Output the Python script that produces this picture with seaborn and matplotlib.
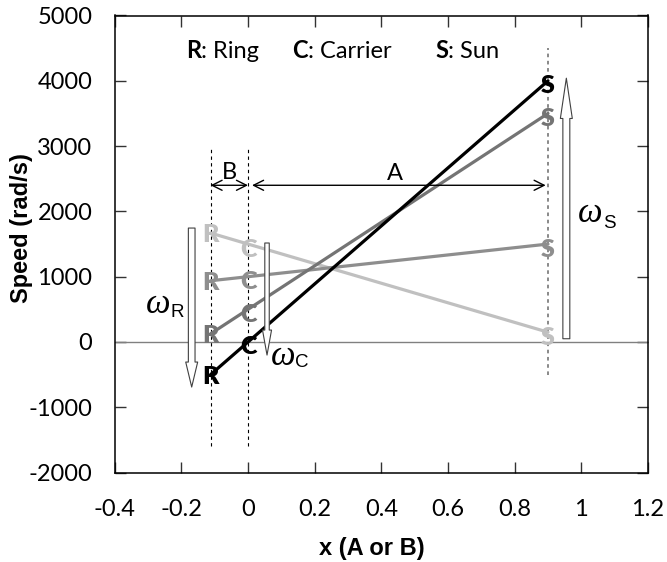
import matplotlib
matplotlib.use('Agg')
import matplotlib.pyplot as plt
import seaborn as sns
import pandas as pd
from matplotlib.patches import FancyArrowPatch

# ---- data ----
node_letters = ['R', 'C', 'S']
node_x = [-0.1125, 0.0, 0.9]          # x = -B, 0, A
case_names = ['a', 'b', 'c', 'd']
ring_speed = [-500, 125, 938, 1669]
carrier_speed = [0, 500, 1000, 1500]
sun_speed = [4000, 3500, 1500, 150]
case_colors = ['#000000', '#747474', '#8e8e8e', '#c0c0c0']
x_ticks = [-0.4, -0.2, 0.0, 0.2, 0.4, 0.6, 0.8, 1.0, 1.2]
x_tick_labels = ['-0.4', '-0.2', '0', '0.2', '0.4', '0.6', '0.8', '1', '1.2']
y_ticks = [-2000, -1000, 0, 1000, 2000, 3000, 4000, 5000]
y_tick_labels = ['-2000', '-1000', '0', '1000', '2000', '3000', '4000', '5000']

rows = []
for i, c in enumerate(case_names):
    for j, sp in enumerate([ring_speed[i], carrier_speed[i], sun_speed[i]]):
        rows.append({'case': c, 'node': node_letters[j], 'x': node_x[j], 'speed': sp})
df = pd.DataFrame(rows)

sns.set_theme(style='ticks')
plt.rcParams['font.family'] = ['Lato', 'DejaVu Sans']
plt.rcParams['text.color'] = 'black'
plt.rcParams['axes.labelcolor'] = 'black'

W, H = 667, 562
fig = plt.figure(figsize=(W / 100, H / 100), dpi=100)
L, R, T, B = 114.7, 648.0, 15.5, 472.6
ax = fig.add_axes([L / W, 1 - B / H, (R - L) / W, (B - T) / H])

palette = dict(zip(case_names, case_colors))
sns.lineplot(data=df, x='x', y='speed', hue='case', hue_order=case_names[::-1],
             palette=palette, sort=False, estimator=None, lw=2.3, legend=False,
             ax=ax, zorder=3)

ax.set_xlim(-0.4, 1.2)
ax.set_ylim(-2000, 5000)
ax.set_xticks(x_ticks)
ax.set_xticklabels(x_tick_labels)
ax.set_yticks(y_ticks)
ax.set_yticklabels(y_tick_labels)
ax.tick_params(axis='both', direction='in', length=8, width=1, color='#333333',
               labelsize=17, labelcolor='black', top=True, right=True)
ax.tick_params(axis='x', pad=19)
ax.tick_params(axis='y', pad=16)
for s in ax.spines.values():
    s.set_color('black')
    s.set_linewidth(1.1)

ax.set_xlabel('x (A or B)', family='Liberation Sans', fontweight='bold', fontsize=17,
              color='black')
ax.set_ylabel('Speed (rad/s)', family='Liberation Sans', fontweight='bold', fontsize=17,
              color='black')
ax.xaxis.set_label_coords(0.4825, -0.141)
ax.yaxis.set_label_coords(-0.153, 0.535)

# zero line
ax.axhline(0, color='#808080', lw=1.0, zorder=1)

# dashed lever lines
ax.vlines([node_x[0], node_x[1]], -1600, 3000, colors='black', lw=0.8,
          linestyles=(0, (3, 3)), zorder=2)
ax.vlines([node_x[2]], -500, 4500, colors='#808080', lw=1.3,
          linestyles=(0, (2, 2)), zorder=2)

# node letters
for i, c in enumerate(case_names):
    for j, sp in enumerate([ring_speed[i], carrier_speed[i], sun_speed[i]]):
        off = -6.4 if j == 0 else -9.0
        ax.annotate(node_letters[j], xy=(node_x[j], sp), xytext=(0, off),
                    textcoords='offset points', ha='center', va='baseline',
                    fontsize=18, fontweight='heavy', color=case_colors[i], zorder=5)

# A / B dimension arrows
ax.annotate('', xy=(node_x[0], 2400), xytext=(node_x[1], 2400),
            arrowprops=dict(arrowstyle='<->,head_length=0.6,head_width=0.3', lw=1,
                            color='black', shrinkA=0, shrinkB=0))
ax.annotate('', xy=(0.012, 2400), xytext=(0.893, 2400),
            arrowprops=dict(arrowstyle='<->,head_length=0.6,head_width=0.3', lw=1,
                            color='black', shrinkA=0, shrinkB=0))
ax.text(node_x[0] / 2, 2500, 'B', ha='center', va='baseline', fontsize=17)
ax.text(0.442, 2480, 'A', ha='center', va='baseline', fontsize=17)


# hollow speed arrows
def hollow_arrow(x, y0, y1, tail_w, head_w, head_l):
    p = FancyArrowPatch((x, y0), (x, y1),
                        arrowstyle=f'simple,head_length={head_l},head_width={head_w},tail_width={tail_w}',
                        mutation_scale=1, fc='white', ec='#404040', lw=0.8,
                        shrinkA=0, shrinkB=0, zorder=4)
    ax.add_patch(p)


hollow_arrow(-0.169, 1745, -690, 4.8, 8.6, 18)
hollow_arrow(0.057, 1516, -200, 3.2, 6.5, 18)
hollow_arrow(0.955, 50, 4040, 5.0, 8.6, 29)


# omega labels
def omega(x, y, ysub, sub):
    ax.text(x, y, '\u03c9', ha='right', va='baseline', fontsize=25,
            family='Liberation Serif', style='italic', zorder=6)
    ax.text(x, ysub, sub, ha='left', va='baseline', fontsize=13.5,
            family='Liberation Sans', zorder=6)


omega(-0.234, 444, 383, 'R')
omega(0.141, -352, -383, 'C')
omega(1.064, 1838, 1746, 'S')

# legend-like caption
fig.canvas.draw()
for x0, bold, rest in [(-0.186, 'R', ': Ring'), (0.132, 'C', ': Carrier'), (0.561, 'S', ': Sun')]:
    t = ax.text(x0, 4349, bold, ha='left', va='baseline', fontsize=17, fontweight='bold')
    ax.annotate(rest, xy=(1, 0), xycoords=t, ha='left', va='bottom', fontsize=17)

fig.savefig('out.png', dpi=100)
